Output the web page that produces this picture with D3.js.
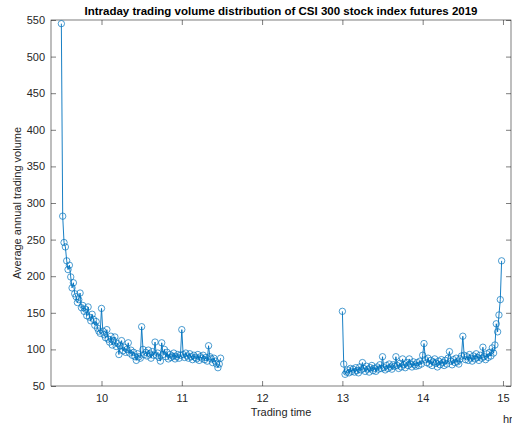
<!DOCTYPE html>
<html>
<head>
<meta charset="utf-8">
<script src="https://cdn.jsdelivr.net/npm/d3@7"></script>
<style>
  body { margin: 0; background: #fff; overflow: hidden; }
  svg { display: block; font-family: "Liberation Sans", Arial, sans-serif; }
</style>
</head>
<body>
<div id="chart"></div>
<script>
// average volume per minute, morning session starting 9:30
const morningStart = 9.5;
const morningVolume = [
  545, 282, 246, 240, 221, 209, 215, 199, 184, 191,
  176, 172, 164, 168, 177, 157, 160, 152, 155, 146,
  158, 144, 139, 148, 141, 133, 138, 129, 125, 122,
  156, 125, 120, 116, 127, 114, 110, 118, 106, 112,
  117, 104, 108, 93, 105, 112, 98, 103, 96, 100,
  109, 95, 99, 92, 96, 90, 85, 94, 90, 88,
  131, 100, 93, 96, 91, 99, 94, 88, 97, 92,
  110, 92, 95, 89, 84, 109, 93, 100, 90, 96,
  87, 93, 89, 91, 95, 87, 90, 93, 88, 92,
  127, 93, 89, 95, 91, 88, 94, 90, 86, 92,
  89, 87, 93, 85, 90, 88, 92, 86, 89, 84,
  105, 90, 87, 82, 88, 84, 80, 75, 80, 88
];
// afternoon session starting 13:00
const afternoonStart = 13;
const afternoonVolume = [
  152, 80, 66, 69, 72, 68, 74, 70, 73, 69,
  75, 71, 68, 76, 72, 82, 74, 70, 77, 73,
  69, 75, 78, 71, 74, 70, 76, 73, 79, 74,
  90, 75, 72, 78, 74, 80, 76, 73, 79, 77,
  90, 78, 74, 81, 76, 87, 79, 75, 82, 78,
  87, 80, 76, 83, 79, 77, 82, 78, 84, 80,
  92, 108, 86, 82, 88, 80, 85, 78, 83, 87,
  81, 76, 84, 79, 86, 82, 78, 85, 80, 88,
  97, 84, 79, 86, 82, 88, 83, 80, 87, 91,
  118, 92, 86, 90, 85, 93, 88, 84, 91, 87,
  94, 89, 85, 92, 88, 103, 90, 86, 94, 89,
  96, 91, 102, 95, 106, 135, 124, 147, 168, 221
];
const xTicks = [10, 11, 12, 13, 14, 15];
const yTicks = [50, 100, 150, 200, 250, 300, 350, 400, 450, 500, 550];

const width = 512, height = 425;
const margin = { left: 51, right: 511, top: 20, bottom: 386 };
const lineColor = "#0072BD";
const axisColor = "#262626";

const svg = d3.select("#chart").append("svg")
  .attr("width", width)
  .attr("height", height);

const xScale = d3.scaleLinear()
  .domain([9.371, 15.1])
  .range([margin.left, margin.right]);
const yScale = d3.scaleLinear()
  .domain([50, 550])
  .range([margin.bottom, margin.top]);

const toPoints = (start, vals) => vals.map((v, i) => ({ t: start + i / 60, v: v }));
const sessions = [
  toPoints(morningStart, morningVolume),
  toPoints(afternoonStart, afternoonVolume)
];

// axes box with inward ticks
const tickLen = 5;
svg.append("g")
  .attr("transform", `translate(0, ${margin.bottom})`)
  .call(d3.axisBottom(xScale).tickValues(xTicks).tickFormat(d3.format("d"))
    .tickSizeInner(-tickLen).tickSizeOuter(0).tickPadding(8))
  .call(g => g.select(".domain").remove());
svg.append("g")
  .attr("transform", `translate(0, ${margin.top})`)
  .call(d3.axisTop(xScale).tickValues(xTicks).tickSizeInner(-tickLen).tickSizeOuter(0).tickFormat(""))
  .call(g => g.select(".domain").remove());
svg.append("g")
  .attr("transform", `translate(${margin.left}, 0)`)
  .call(d3.axisLeft(yScale).tickValues(yTicks).tickFormat(d3.format("d"))
    .tickSizeInner(-tickLen).tickSizeOuter(0).tickPadding(6))
  .call(g => g.select(".domain").remove());
svg.append("g")
  .attr("transform", `translate(${margin.right}, 0)`)
  .call(d3.axisRight(yScale).tickValues(yTicks).tickSizeInner(-tickLen).tickSizeOuter(0).tickFormat(""))
  .call(g => g.select(".domain").remove());

svg.selectAll(".tick line").attr("stroke", axisColor).attr("stroke-width", 0.6);
svg.selectAll(".tick text")
  .attr("fill", axisColor)
  .attr("font-size", "11px")
  .attr("font-family", "Liberation Sans, Arial, sans-serif");

svg.append("rect")
  .attr("x", margin.left)
  .attr("y", margin.top)
  .attr("width", margin.right - margin.left)
  .attr("height", margin.bottom - margin.top)
  .attr("fill", "none")
  .attr("stroke", axisColor)
  .attr("stroke-width", 0.6);

// data lines + open circle markers
const line = d3.line().x(d => xScale(d.t)).y(d => yScale(d.v));
sessions.forEach(pts => {
  svg.append("path")
    .datum(pts)
    .attr("d", line)
    .attr("fill", "none")
    .attr("stroke", lineColor)
    .attr("stroke-width", 0.9);
  svg.append("g").selectAll("circle")
    .data(pts)
    .enter()
    .append("circle")
    .attr("cx", d => xScale(d.t))
    .attr("cy", d => yScale(d.v))
    .attr("r", 3.2)
    .attr("fill", "none")
    .attr("stroke", lineColor)
    .attr("stroke-width", 0.7);
});

// labels
svg.append("text")
  .attr("x", (margin.left + margin.right) / 2)
  .attr("y", 15)
  .attr("text-anchor", "middle")
  .attr("font-size", "11.5px")
  .attr("font-weight", "bold")
  .attr("fill", "#000")
  .text("Intraday trading volume distribution of CSI 300 stock index futures 2019");

svg.append("text")
  .attr("x", (margin.left + margin.right) / 2)
  .attr("y", 416)
  .attr("text-anchor", "middle")
  .attr("font-size", "11px")
  .attr("fill", axisColor)
  .text("Trading time");

// unit label at the right end of the x axis (runs past the figure edge)
svg.append("text")
  .attr("x", 503)
  .attr("y", 423)
  .attr("font-size", "11px")
  .attr("fill", axisColor)
  .text("hrs");

svg.append("text")
  .attr("transform", `translate(21, ${(margin.top + margin.bottom) / 2}) rotate(-90)`)
  .attr("text-anchor", "middle")
  .attr("font-size", "11px")
  .attr("fill", axisColor)
  .text("Average annual trading volume");
</script>
</body>
</html>
